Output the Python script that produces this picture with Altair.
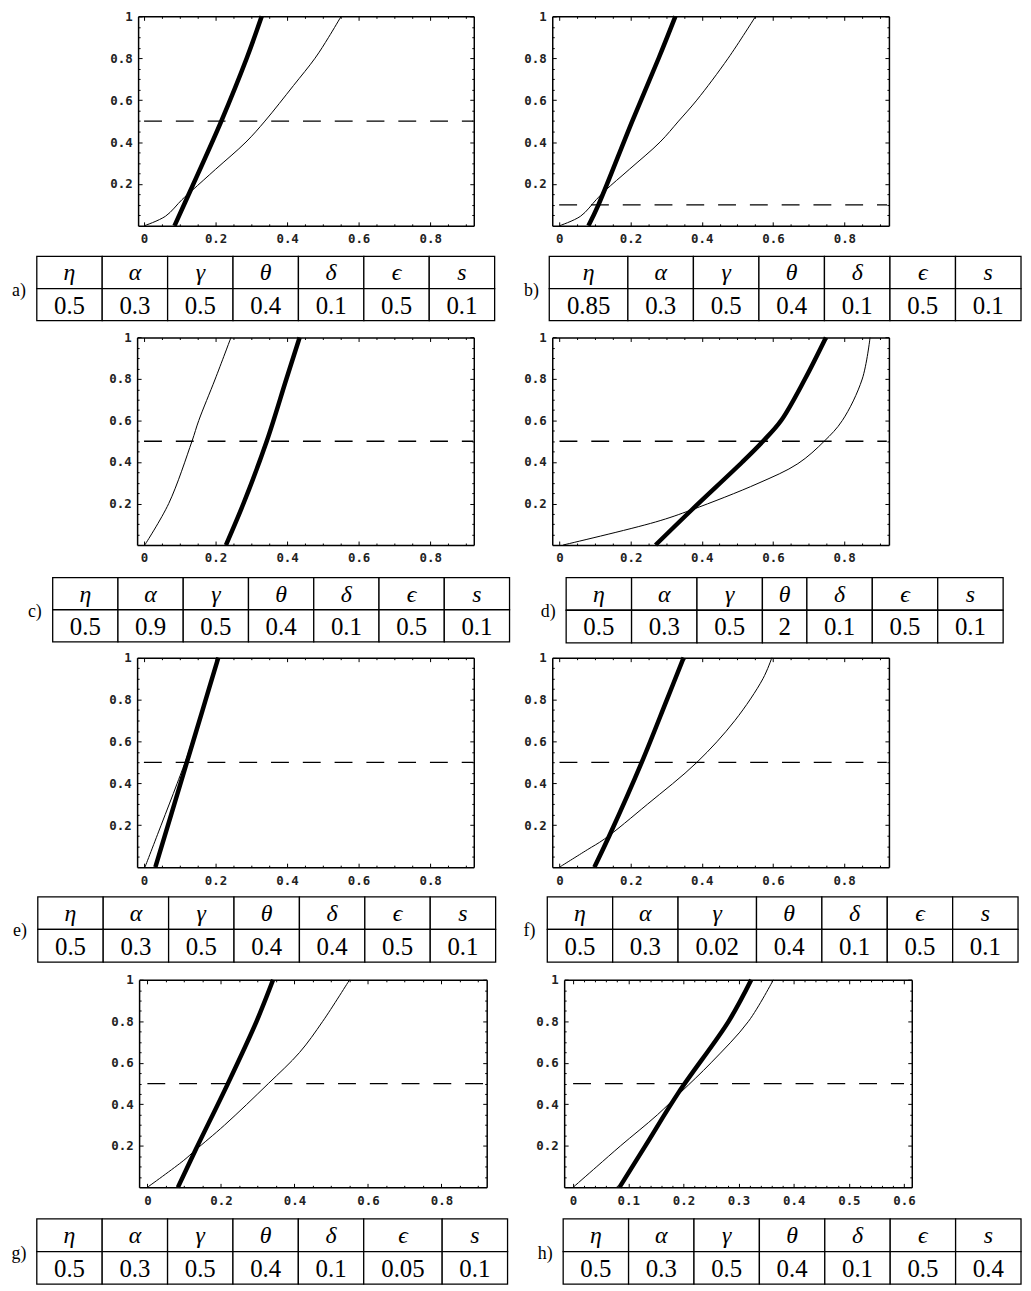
import altair as alt
import pandas as pd

# ---------------- data ----------------
PANELS = ["a", "b", "c", "d", "e", "f", "g", "h"]
HEADERS = ["η", "α", "γ", "θ", "δ", "ϵ", "s"]

VALUES_A = ["0.5", "0.3", "0.5", "0.4", "0.1", "0.5", "0.1"]
VALUES_B = ["0.85", "0.3", "0.5", "0.4", "0.1", "0.5", "0.1"]
VALUES_C = ["0.5", "0.9", "0.5", "0.4", "0.1", "0.5", "0.1"]
VALUES_D = ["0.5", "0.3", "0.5", "2", "0.1", "0.5", "0.1"]
VALUES_E = ["0.5", "0.3", "0.5", "0.4", "0.4", "0.5", "0.1"]
VALUES_F = ["0.5", "0.3", "0.02", "0.4", "0.1", "0.5", "0.1"]
VALUES_G = ["0.5", "0.3", "0.5", "0.4", "0.1", "0.05", "0.1"]
VALUES_H = ["0.5", "0.3", "0.5", "0.4", "0.1", "0.5", "0.4"]

THRESHOLD = [0.5, 0.1, 0.5, 0.5, 0.5, 0.5, 0.5, 0.5]
DASH_END = [0.92, 0.92, 0.92, 0.92, 0.92, 0.92, 0.92, 0.6]

X_TICKS_WIDE = [0, 0.2, 0.4, 0.6, 0.8]
X_TICKS_NARROW = [0, 0.1, 0.2, 0.3, 0.4, 0.5, 0.6]
Y_TICKS = [0.2, 0.4, 0.6, 0.8, 1]

THICK_A_Y = [0, 0.17, 0.5, 0.8, 1]
THICK_A_X = [0.085, 0.13, 0.216, 0.287, 0.329]
THIN_A_Y = [0, 0.046, 0.125, 0.17, 0.27, 0.4, 0.5, 0.67, 0.8, 0.9, 1]
THIN_A_X = [0, 0.06, 0.106, 0.135, 0.2, 0.285, 0.338, 0.418, 0.478, 0.516, 0.551]

THICK_B_Y = [0, 0.1, 0.5, 0.8, 1]
THICK_B_X = [0.082, 0.11, 0.205, 0.279, 0.326]
THIN_B_Y = [0, 0.046, 0.125, 0.17, 0.27, 0.4, 0.5, 0.6, 0.8, 1]
THIN_B_X = [0, 0.06, 0.104, 0.13, 0.197, 0.283, 0.335, 0.386, 0.474, 0.551]

THICK_C_Y = [0, 0.2, 0.5, 0.8, 1]
THICK_C_X = [0.229, 0.278, 0.343, 0.398, 0.435]
THIN_C_Y = [0, 0.2, 0.5, 0.6, 0.8, 1]
THIN_C_X = [0.002, 0.069, 0.134, 0.153, 0.199, 0.243]

THICK_D_Y = [0, 0.17, 0.4, 0.5, 0.6, 0.8, 1]
THICK_D_X = [0.27, 0.372, 0.514, 0.572, 0.623, 0.69, 0.749]
THIN_D_Y = [0, 0.111, 0.17, 0.297, 0.392, 0.5, 0.6, 0.8, 1]
THIN_D_X = [0.01, 0.27, 0.372, 0.558, 0.67, 0.744, 0.795, 0.851, 0.873]

THICK_E_Y = [0, 0.25, 0.5, 0.75, 1]
THICK_E_X = [0.032, 0.076, 0.12, 0.164, 0.208]
THIN_E_Y = [0, 0.2, 0.4, 0.55, 1]
THIN_E_X = [0.003, 0.048, 0.093, 0.125, 0.205]

THICK_F_Y = [0, 0.15, 0.5, 0.8, 1]
THICK_F_X = [0.098, 0.14, 0.231, 0.302, 0.349]
THIN_F_Y = [0, 0.083, 0.134, 0.3, 0.5, 0.7, 0.9, 1]
THIN_F_X = [0, 0.078, 0.126, 0.247, 0.386, 0.493, 0.572, 0.597]

THICK_G_Y = [0, 0.18, 0.5, 0.8, 1]
THICK_G_X = [0.083, 0.131, 0.219, 0.297, 0.342]
THIN_G_Y = [0, 0.13, 0.18, 0.3, 0.5, 0.65, 0.8, 1]
THIN_G_X = [0, 0.099, 0.131, 0.21, 0.329, 0.414, 0.477, 0.55]

THICK_H_Y = [0, 0.2, 0.46, 0.8, 1]
THICK_H_X = [0.084, 0.131, 0.192, 0.282, 0.323]
THIN_H_Y = [0, 0.1, 0.2, 0.35, 0.46, 0.6, 0.8, 1]
THIN_H_X = [0, 0.043, 0.086, 0.153, 0.196, 0.25, 0.318, 0.363]

VALUES = [VALUES_A, VALUES_B, VALUES_C, VALUES_D, VALUES_E, VALUES_F, VALUES_G, VALUES_H]
THICK = [(THICK_A_X, THICK_A_Y), (THICK_B_X, THICK_B_Y), (THICK_C_X, THICK_C_Y),
         (THICK_D_X, THICK_D_Y), (THICK_E_X, THICK_E_Y), (THICK_F_X, THICK_F_Y),
         (THICK_G_X, THICK_G_Y), (THICK_H_X, THICK_H_Y)]
THIN = [(THIN_A_X, THIN_A_Y), (THIN_B_X, THIN_B_Y), (THIN_C_X, THIN_C_Y),
        (THIN_D_X, THIN_D_Y), (THIN_E_X, THIN_E_Y), (THIN_F_X, THIN_F_Y),
        (THIN_G_X, THIN_G_Y), (THIN_H_X, THIN_H_Y)]

# ---------------- layout (page-reference pixels) ----------------
W, H = 1022, 1282

def cx(rx):
    return rx - 8

def cy(ry):
    return (ry - 3) * 0.995

PLOT_BOX = [(139, 477, 7, 219), (556, 895, 7, 219),
            (138, 477, 332, 542), (556, 895, 332, 542),
            (138, 477, 656, 868), (556, 895, 656, 868),
            (140, 490, 982, 1192), (568, 918, 982, 1192)]
X_DOMAIN = [(-0.0167, 0.922), (-0.0195, 0.925), (-0.0194, 0.922), (-0.0204, 0.926),
            (-0.019, 0.922), (-0.0204, 0.926), (-0.0225, 0.923), (-0.0162, 0.614)]
TABLE_BOX = [(37, 498, 250, 315), (553, 1028, 250, 315),
             (53, 513, 575, 640), (570, 1010, 575, 641),
             (38, 499, 898, 964), (551, 1025, 898, 964),
             (37, 511, 1224, 1290), (567, 1028, 1224, 1290)]
COL_UNITS = {1: 0.68, 2: 1.0, 3: 1.0, 4: 1.2}

LABEL_FONT = "DejaVu Sans Mono"
SERIF = "Liberation Serif, DejaVu Serif, serif"


def major_test(step):
    return f"abs(datum.value/{step} - round(datum.value/{step})) < 0.001"


def plot_panel(i):
    L, R, T, B = PLOT_BOX[i]
    l, r, t, b = cx(L), cx(R), cy(T), cy(B)
    dom = list(X_DOMAIN[i])
    xsc = alt.Scale(domain=dom, range=[l, r], nice=False, zero=False)
    ysc = alt.Scale(domain=[0, 1], range=[b, t], nice=False, zero=False)
    narrow = PANELS[i] == "h"
    xmaj = X_TICKS_NARROW if narrow else X_TICKS_WIDE
    step = 0.1 if narrow else 0.2
    minor = 0.02 if narrow else 0.05
    xt = [round(k * minor, 4) for k in range(int(dom[1] / minor + 1e-9) + 1)]
    yt = [round(k * 0.05, 4) for k in range(1, 21)]
    xsize = {"condition": {"test": major_test(step), "value": 4}, "value": 2}
    ysize = {"condition": {"test": major_test(0.2), "value": 4}, "value": 2}

    common = dict(grid=False, title="", tickColor="black", tickWidth=1,
                  domainColor="black", domainWidth=1.5)
    lab = dict(labelFont=LABEL_FONT, labelFontSize=12.5, labelFontWeight="bold",
               labelColor="#222", labelFlush=False, labelOverlap=False)
    ax_xa = alt.Axis(orient="bottom", offset=b - H, values=xmaj, format=".1~f",
                     ticks=False, tickSize=0, labels=True, domain=True,
                     labelPadding=7, **lab, **common)
    ax_xb = alt.Axis(orient="top", offset=-b, values=xt, ticks=True, tickSize=xsize,
                     labels=False, domain=False, **common)
    ax_xc = alt.Axis(orient="bottom", offset=t - H, values=xt, ticks=True, tickSize=xsize,
                     labels=False, domain=True, **common)
    ax_ya = alt.Axis(orient="left", offset=-l, values=Y_TICKS, format=".1~f",
                     ticks=False, tickSize=0, labels=True, domain=True,
                     labelPadding=6, **lab, **common)
    ax_yb = alt.Axis(orient="right", offset=l - W, values=yt, ticks=True, tickSize=ysize,
                     labels=False, domain=False, **common)
    ax_yc = alt.Axis(orient="left", offset=-r, values=yt, ticks=True, tickSize=ysize,
                     labels=False, domain=True, **common)

    tx, ty = THIN[i]
    kx, ky = THICK[i]
    thin_df = pd.DataFrame({"x": tx, "y": ty, "o": list(range(len(tx)))})
    thick_df = pd.DataFrame({"x": kx, "y": ky, "o": list(range(len(kx)))})
    dash_df = pd.DataFrame({"x0": [0.0], "x1": [DASH_END[i]], "y": [THRESHOLD[i]]})

    thin = alt.Chart(thin_df).mark_line(color="black", strokeWidth=1,
                                        interpolate="catmull-rom").encode(
        x=alt.X("x:Q", scale=xsc, axis=ax_xa),
        y=alt.Y("y:Q", scale=ysc, axis=ax_ya),
        order="o:Q",
    )
    thick = alt.Chart(thick_df).mark_line(color="black", strokeWidth=4.5,
                                          interpolate="catmull-rom").encode(
        x=alt.X("x:Q", scale=xsc, axis=ax_xb),
        y=alt.Y("y:Q", scale=ysc, axis=ax_yb),
        order="o:Q",
    )
    dash = alt.Chart(dash_df).mark_rule(color="black", strokeWidth=1.3,
                                        strokeDash=[18, 14]).encode(
        x=alt.X("x0:Q", scale=xsc, axis=ax_xc),
        x2="x1:Q",
        y=alt.Y("y:Q", scale=ysc, axis=ax_yc),
    )
    return alt.layer(thin, thick, dash).resolve_axis(x="independent", y="independent")


def table_panel(i):
    L, R, T, B = TABLE_BOX[i]
    vals = VALUES[i]
    widths = [COL_UNITS[max(len(h), len(v))] for h, v in zip(HEADERS, vals)]
    edges = [0.0]
    for w in widths:
        edges.append(edges[-1] + w)
    total = edges[-1]
    xsc = alt.Scale(domain=[0, total], range=[cx(L), cx(R)], nice=False, zero=False)
    ysc = alt.Scale(domain=[0, 2], range=[cy(T), cy(B)], nice=False, zero=False)
    rows = []
    for row, texts in enumerate([HEADERS, vals]):
        for c, txt in enumerate(texts):
            rows.append({"x0": edges[c], "x1": edges[c + 1], "xc": (edges[c] + edges[c + 1]) / 2,
                         "y0": row, "y1": row + 1, "yc": row + 0.5, "row": row, "text": txt})
    cells = pd.DataFrame(rows)
    rect = alt.Chart(cells).mark_rect(fill="white", stroke="black", strokeWidth=1.3).encode(
        x=alt.X("x0:Q", scale=xsc, axis=None), x2="x1:Q",
        y=alt.Y("y0:Q", scale=ysc, axis=None), y2="y1:Q",
    )
    hdr = alt.Chart(cells[cells.row == 0]).mark_text(
        font=SERIF, fontSize=24, fontStyle="italic", align="center", baseline="middle",
        color="black", dy=1).encode(
        x=alt.X("xc:Q", scale=xsc, axis=None),
        y=alt.Y("yc:Q", scale=ysc, axis=None),
        text="text:N",
    )
    val = alt.Chart(cells[cells.row == 1]).mark_text(
        font=SERIF, fontSize=25, align="center", baseline="middle",
        color="black", dy=1).encode(
        x=alt.X("xc:Q", scale=xsc, axis=None),
        y=alt.Y("yc:Q", scale=ysc, axis=None),
        text="text:N",
    )
    lab_df = pd.DataFrame({"x": [0.0], "y": [1.0], "lab": [PANELS[i] + ")"]})
    lab = alt.Chart(lab_df).mark_text(
        font=SERIF, fontSize=18, align="center", baseline="middle",
        color="black", dx=-18, dy=2).encode(
        x=alt.X("x:Q", scale=xsc, axis=None),
        y=alt.Y("y:Q", scale=ysc, axis=None),
        text="lab:N",
    )
    return alt.layer(rect, hdr, val, lab)


layers = []
for i in range(len(PANELS)):
    layers.append(plot_panel(i))
    layers.append(table_panel(i))

chart = alt.layer(*layers).resolve_scale(x="independent", y="independent").properties(
    width=W, height=H, autosize=alt.AutoSizeParams(type="none"), padding=0,
    background="white",
).configure_view(strokeWidth=0)

chart.save("out.html", embed_options={"renderer": "svg", "actions": False})
